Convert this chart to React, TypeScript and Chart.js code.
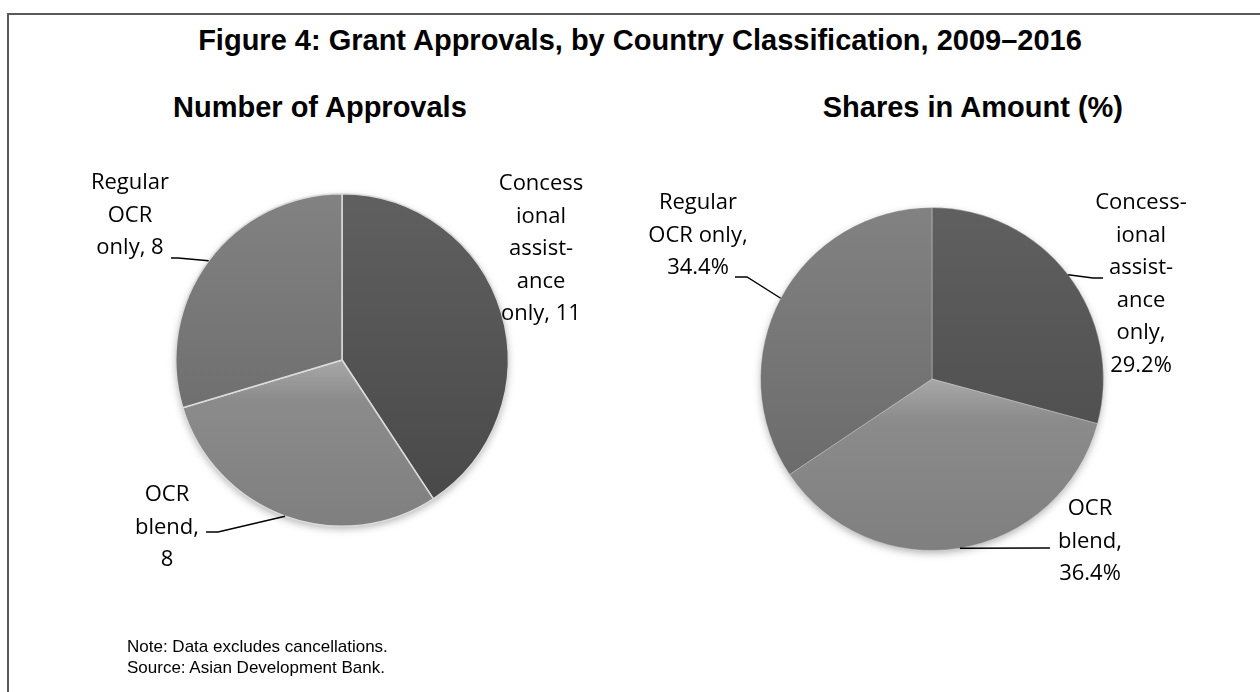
import React, { useEffect, useRef } from "react";
import { Chart, registerables } from "chart.js";

Chart.register(...registerables);

// ---------- data ----------
const categories = ["Concessional assistance only", "OCR blend", "Regular OCR only"];
const approvalCounts = [11, 8, 8];
const amountShares = [29.2, 36.4, 34.4];

const figureTitle = "Figure 4: Grant Approvals, by Country Classification, 2009–2016";
const leftTitle = "Number of Approvals";
const rightTitle = "Shares in Amount (%)";
const noteLines = ["Note: Data excludes cancellations.", "Source: Asian Development Bank."];

// wrapped label text, {v} is replaced by the value
const leftLabelLines = [
  ["Concess", "ional", "assist-", "ance", "only, {v}"],
  ["OCR", "blend,", "{v}"],
  ["Regular", "OCR", "only, {v}"],
];
const rightLabelLines = [
  ["Concess-", "ional", "assist-", "ance", "only,", "{v}%"],
  ["OCR", "blend,", "{v}%"],
  ["Regular", "OCR only,", "{v}%"],
];

// ---------- styles / layout ----------
const LABEL_FONT = '22px "Open Sans"';
const LINE_H = 32.6;

type LabelLayout = { dx: number; dy: number; leader: number[][] | null };

const leftLayout = {
  left: 0,
  width: 630,
  cx: 342,
  cy: 360,
  r: 167,
  border: { color: "#dcdcdc", width: 1.5 },
  labels: [
    { dx: 199, dy: -170, leader: null },
    { dx: -175, dy: 141, leader: [[-124, 172], [-136, 172]] },
    { dx: -212, dy: -171, leader: [[-164, -102], [-171, -102]] },
  ] as LabelLayout[],
};

const rightLayout = {
  left: 630,
  width: 630,
  cx: 932,
  cy: 379,
  r: 172,
  border: { color: "rgba(255,255,255,0.3)", width: 1 },
  labels: [
    { dx: 209, dy: -170, leader: [[161, -101], [171, -101]] },
    { dx: 158, dy: 136, leader: [[111, 169], [118, 169]] },
    { dx: -234, dy: -170, leader: [[-185, -102], [-197, -102]] },
  ] as LabelLayout[],
};

const CANVAS_H = 692;

const sliceStops: [number, string][][] = [
  [[0, "#606060"], [1, "#474747"]],
  [[0, "#9c9c9c"], [0.5, "#a8a8a8"], [0.62, "#8b8b8b"], [1, "#7f7f7f"]],
  [[0, "#828282"], [1, "#656565"]],
];

function makeGradient(ctx: any) {
  const chart = ctx.chart;
  const area = chart.chartArea;
  const stops = sliceStops[ctx.dataIndex] || sliceStops[0];
  if (!area) return stops[0][1];
  const g = chart.ctx.createLinearGradient(0, area.top, 0, area.bottom);
  stops.forEach(([o, c]) => g.addColorStop(o, c));
  return g;
}

const shadowPlugin = {
  id: "pieShadow",
  beforeDatasetsDraw(chart: any) {
    const meta = chart.getDatasetMeta(0);
    const el = meta.data[0];
    if (!el) return;
    const ctx = chart.ctx;
    ctx.save();
    ctx.shadowColor = "rgba(0,0,0,0.35)";
    ctx.shadowBlur = 9;
    ctx.shadowOffsetY = 3;
    ctx.fillStyle = "#777";
    ctx.beginPath();
    ctx.arc(el.x, el.y, el.outerRadius - 1, 0, Math.PI * 2);
    ctx.fill();
    ctx.restore();
  },
};

function makeLabelPlugin(lines: string[][], layouts: LabelLayout[], fmt: (v: number) => string) {
  return {
    id: "sliceLabels",
    afterDatasetsDraw(chart: any) {
      const meta = chart.getDatasetMeta(0);
      const values = chart.data.datasets[0].data as number[];
      const ctx = chart.ctx;
      ctx.save();
      meta.data.forEach((el: any, i: number) => {
        const lay = layouts[i];
        const cx = el.x;
        const cy = el.y;
        if (lay.leader) {
          const mid = (el.startAngle + el.endAngle) / 2;
          const px = cx + Math.cos(mid) * el.outerRadius;
          const py = cy + Math.sin(mid) * el.outerRadius;
          ctx.strokeStyle = "#000";
          ctx.lineWidth = 1.4;
          ctx.beginPath();
          ctx.moveTo(px, py);
          lay.leader.forEach(([dx, dy]) => ctx.lineTo(cx + dx, cy + dy));
          ctx.stroke();
        }
        ctx.fillStyle = "#000";
        ctx.font = LABEL_FONT;
        ctx.textAlign = "center";
        ctx.textBaseline = "alphabetic";
        lines[i].forEach((t, k) => {
          const txt = t.replace("{v}", fmt(values[i]));
          ctx.fillText(txt, cx + lay.dx, cy + lay.dy + k * LINE_H);
        });
      });
      ctx.restore();
    },
  };
}

function PieCanvas({ layout, values, lines, fmt }: any) {
  const ref = useRef<HTMLCanvasElement | null>(null);
  useEffect(() => {
    if (!ref.current) return;
    const localCx = layout.cx - layout.left;
    const chart = new Chart(ref.current, {
      type: "pie",
      data: {
        labels: categories,
        datasets: [
          {
            data: values,
            backgroundColor: makeGradient as any,
            borderColor: layout.border.color,
            borderWidth: layout.border.width,
          },
        ],
      },
      options: {
        responsive: false,
        animation: false,
        layout: {
          padding: {
            left: localCx - layout.r,
            right: layout.width - (localCx + layout.r),
            top: layout.cy - layout.r,
            bottom: CANVAS_H - (layout.cy + layout.r),
          },
        },
        plugins: {
          legend: { display: false },
          title: { display: false },
          tooltip: { enabled: false },
        },
      },
      plugins: [shadowPlugin, makeLabelPlugin(lines, layout.labels, fmt)],
    });
    return () => chart.destroy();
  }, []);
  return (
    <canvas
      ref={ref}
      width={layout.width}
      height={CANVAS_H}
      style={{ position: "absolute", left: layout.left, top: 0, width: layout.width, height: CANVAS_H }}
    />
  );
}

function TextAt({ text, x, baseline, size, bold, align }: any) {
  const top = baseline - 0.8465 * size;
  const style: any = {
    position: "absolute",
    top,
    fontFamily: '"Liberation Sans", Arial, sans-serif',
    fontWeight: bold ? "bold" : "normal",
    fontSize: size,
    lineHeight: `${size}px`,
    whiteSpace: "nowrap",
    color: "#000",
  };
  if (align === "center") {
    style.left = x - 1000;
    style.width = 2000;
    style.textAlign = "center";
  } else if (align === "right") {
    style.right = 1260 - x;
    style.textAlign = "right";
  } else {
    style.left = x;
  }
  return <div style={style}>{text}</div>;
}

export default function App() {
  return (
    <div
      style={{
        position: "absolute",
        left: 0,
        top: 0,
        width: 1260,
        height: 692,
        overflow: "hidden",
        background: "#fff",
      }}
    >
      <div
        style={{
          position: "absolute",
          left: 7,
          top: 13,
          width: 1400,
          height: 900,
          border: "2px solid #595959",
        }}
      />
      <TextAt text={figureTitle} x={640} baseline={51} size={29} bold align="center" />
      <TextAt text={leftTitle} x={173} baseline={118} size={29} bold />
      <TextAt text={rightTitle} x={1123} baseline={118} size={29} bold align="right" />
      <PieCanvas layout={leftLayout} values={approvalCounts} lines={leftLabelLines} fmt={(v: number) => String(v)} />
      <PieCanvas layout={rightLayout} values={amountShares} lines={rightLabelLines} fmt={(v: number) => v.toFixed(1)} />
      <TextAt text={noteLines[0]} x={127} baseline={652} size={17} />
      <TextAt text={noteLines[1]} x={127} baseline={673} size={17} />
    </div>
  );
}
